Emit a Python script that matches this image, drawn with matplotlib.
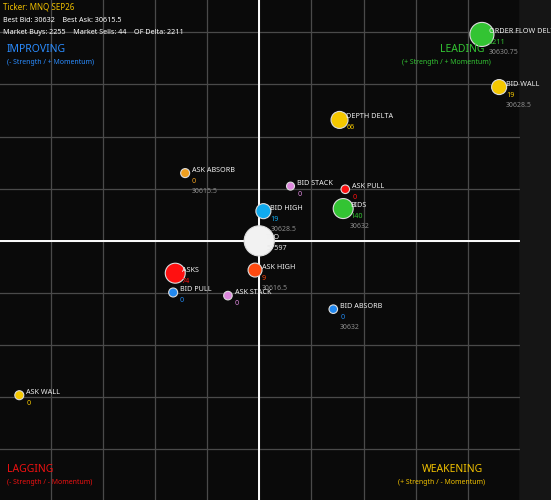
import matplotlib
matplotlib.use("Agg")
import matplotlib.pyplot as plt

plt.rcParams['font.family'] = ['Noto Sans', 'DejaVu Sans']

# ---- data ----
names = ["ORDER FLOW DELTA", "BID WALL", "DEPTH DELTA", "ASK ABSORB", "BID STACK",
         "ASK PULL", "BIDS", "BID HIGH", "TPO", "ASKS", "ASK HIGH", "BID PULL",
         "ASK STACK", "BID ABSORB", "ASK WALL"]
strength = [4.27, 4.6, 1.54, -1.42, 0.6, 1.65, 1.61, 0.08, 0.0, -1.61, -0.08, -1.65,
            -0.6, 1.42, -4.6]
momentum = [3.96, 2.95, 2.32, 1.3, 1.05, 0.99, 0.62, 0.57, 0.0, -0.62, -0.56, -0.99,
            -1.05, -1.31, -2.96]
values = ["2211", "19", "66", "0", "0", "0", "140", "19", "57597", "74", "9", "0", "0", "0", "0"]
prices = ["30630.75", "30628.5", "", "30615.5", "", "", "30632", "30628.5", "", "", "30616.5",
          "", "", "30632", ""]
sizes = [300, 117, 150, 42, 33, 38, 207, 117, 470, 207, 101, 42, 38, 38, 42]
colors = ["#33c433", "#f5c800", "#f5c800", "#f0a020", "#dd88dd", "#ff1010", "#33c433",
          "#10aaee", "#f2f2f2", "#ff1010", "#ff4a10", "#2288ee", "#dd88dd", "#2288ee",
          "#f5c800"]

ticker = "MNQ SEP26"
best_bid, best_ask = "30632", "30615.5"
mkt_buys, mkt_sells, of_delta = "2255", "44", "2211"

W, H = 551, 500
fig = plt.figure(figsize=(W / 100, H / 100), dpi=100)
fig.patch.set_facecolor("#151515")
ax = fig.add_axes([0, 0, 520 / W, 1])
ax.set_facecolor("#0a0a0a")
ax.set_xlim(-4.97, 5.0)
ax.set_ylim(-4.97, 4.62)
ax.set_xticks(range(-4, 6))
ax.set_yticks(range(-4, 5))
ax.tick_params(length=0, labelbottom=False, labelleft=False)
ax.grid(True, color="#4a4a4a", lw=0.9)
for s in ax.spines.values():
    s.set_visible(False)
ax.axvline(0, color="white", lw=1.4, zorder=2)
ax.axhline(0, color="white", lw=1.4, zorder=2)

ax.scatter(strength, momentum, s=sizes, c=colors, edgecolors="#dddddd",
           linewidths=0.8, zorder=3)

for n, x, y, v, p, c in zip(names, strength, momentum, values, prices, colors):
    ax.annotate(n, (x, y), xytext=(5, 2.2), textcoords="offset points",
                color="#f0f0f0", fontsize=5.2, va="center", ha="left",
                annotation_clip=False, zorder=4)
    ax.annotate(v, (x, y), xytext=(5, -5.8), textcoords="offset points",
                color=c if c != "#f2f2f2" else "#e8e8e8", fontsize=5.2,
                va="center", ha="left", annotation_clip=False, zorder=4)
    if p:
        ax.annotate(p, (x, y), xytext=(5, -13), textcoords="offset points",
                    color="#8a8a8a", fontsize=5.0, va="center", ha="left",
                    annotation_clip=False, zorder=4)


def ftxt(px, py, s, **kw):
    fig.text(px / W, 1 - py / H, s, va="center", **kw)


# header
ftxt(3, 7, "Ticker: " + ticker, color="#f0c000", fontsize=5.8)
ftxt(3, 20, "Best Bid: %s    Best Ask: %s" % (best_bid, best_ask), color="white", fontsize=5.2)
ftxt(3, 32, "Market Buys: %s    Market Sells: %s    OF Delta: %s" % (mkt_buys, mkt_sells, of_delta),
     color="white", fontsize=5.2)

# quadrant labels
ftxt(7, 50, "IMPROVING", color="#2a8cff", fontsize=7.5)
ftxt(7, 63, "(- Strength / + Momentum)", color="#2a8cff", fontsize=5.0)
ftxt(462, 50, "LEADING", color="#33c433", fontsize=7.5, ha="center")
ftxt(446, 63, "(+ Strength / + Momentum)", color="#33c433", fontsize=5.0, ha="center")
ftxt(7, 470, "LAGGING", color="#ee1111", fontsize=7.5)
ftxt(7, 483, "(- Strength / - Momentum)", color="#ee1111", fontsize=5.0)
ftxt(452, 470, "WEAKENING", color="#f0c000", fontsize=7.5, ha="center")
ftxt(441, 483, "(+ Strength / - Momentum)", color="#f0c000", fontsize=5.0, ha="center")

fig.savefig("out.png", dpi=100, facecolor=fig.get_facecolor())
